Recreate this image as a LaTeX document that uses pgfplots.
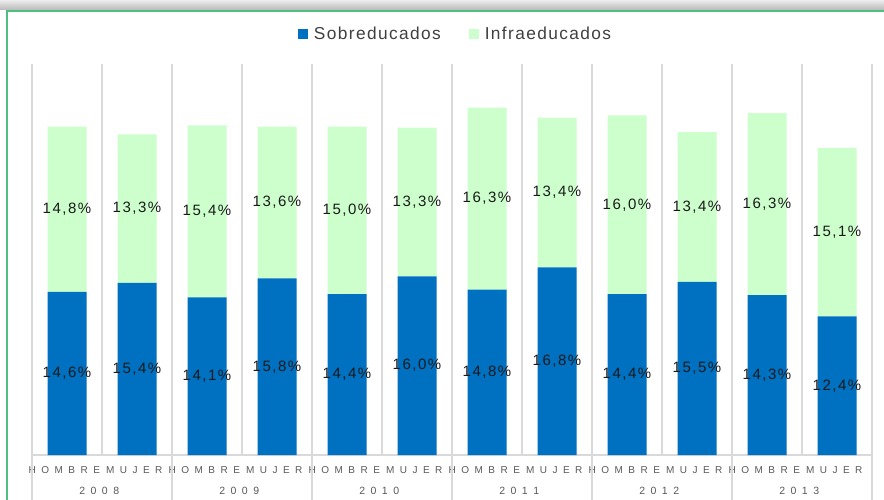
\documentclass[border=0pt]{standalone}
\usepackage{fontspec}
\setmainfont{Liberation Sans}
\usepackage{pgfplots}
\pgfplotsset{compat=1.18}
\usepackage{pgfplotstable}
\definecolor{sobre}{HTML}{0070C0}
\definecolor{infra}{HTML}{CCFFCC}
\definecolor{gridc}{HTML}{D9D9D9}
\definecolor{tickc}{HTML}{595959}
\definecolor{legc}{HTML}{404040}
\definecolor{labc}{HTML}{1A1A1A}
\definecolor{framec}{HTML}{4FBF7F}

\protected\def\spaced#1{\spacedi#1\relax}
\def\spacedi#1{\ifx\relax#1\else#1\kern5.5pt\expandafter\spacedi\fi}
\newcommand\labfont{\fontsize{15}{17}\selectfont\addfontfeature{LetterSpace=10}}

\pgfplotstableread{
x blue green
0 14.6 14.8
1 15.4 13.3
2 14.1 15.4
3 15.8 13.6
4 14.4 15.0
5 16.0 13.3
6 14.8 16.3
7 16.8 13.4
8 14.4 16.0
9 15.5 13.4
10 14.3 16.3
11 12.4 15.1
}\data

\begin{document}
\begin{tikzpicture}[x=1pt,y=1pt]
\useasboundingbox (0,0) rectangle (884,499);
\clip (0,0) rectangle (884,499);
\fill[white] (0,0) rectangle (884,499);
\shade[top color=gray!15, bottom color=gray!55] (0,489) rectangle (884,499);
\draw[framec, line width=2pt] (7,-5) -- (7,488) -- (895,488);
\begin{axis}[
  at={(32pt,44pt)}, anchor=south west,
  scale only axis, width=840pt, height=391pt,
  xmin=-0.5, xmax=11.5, ymin=0, ymax=35,
  ybar stacked, bar width=39pt,
  axis y line=none,
  axis x line*=bottom,
  x axis line style={-, draw=gridc, line width=1.3pt},
  xtick={0,...,11},
  xticklabels={\spaced{HOMBRE},\spaced{MUJER},\spaced{HOMBRE},\spaced{MUJER},\spaced{HOMBRE},\spaced{MUJER},\spaced{HOMBRE},\spaced{MUJER},\spaced{HOMBRE},\spaced{MUJER},\spaced{HOMBRE},\spaced{MUJER}},
  major tick length=0pt, minor tick length=0pt,
  minor xtick={-0.5,0.5,...,11.5},
  xminorgrids, minor grid style={draw=gridc, line width=1.3pt},
  xticklabel style={font=\fontsize{10}{12}\selectfont, text=tickc, anchor=north, inner sep=0pt, yshift=-11pt},
  clip=false,
  /pgf/number format/assume math mode=true,
  legend style={at={(0.5,1)}, anchor=center, xshift=5.5pt, yshift=30pt, draw=none, fill=none,
    font=\fontsize{17.3}{19}\selectfont\addfontfeature{LetterSpace=8}, text=legc,
    nodes={inner xsep=6pt},
    /tikz/every even column/.append style={column sep=22pt}},
  legend columns=2,
  legend cell align=left,
]
\addplot[fill=sobre, draw=none, point meta=explicit,
  nodes near coords={\pgfmathprintnumber[fixed, fixed zerofill, precision=1, use comma]{\pgfplotspointmeta}\%},
  nodes near coords align={center},
  every node near coord/.append style={anchor=center, font=\labfont, text=labc},
  legend image code/.code={\fill[sobre] (0pt,-5pt) rectangle (10pt,5pt);}]
  table[x=x, y=blue, meta=blue] {\data};
\addlegendentry{Sobreducados}
\addplot[fill=infra, draw=none, point meta=explicit,
  nodes near coords={\pgfmathprintnumber[fixed, fixed zerofill, precision=1, use comma]{\pgfplotspointmeta}\%},
  nodes near coords align={center},
  every node near coord/.append style={anchor=center, font=\labfont, text=labc},
  legend image code/.code={\fill[infra] (0pt,-5pt) rectangle (10pt,5pt);}]
  table[x=x, y=green, meta=green] {\data};
\addlegendentry{Infraeducados}
\pgfplotsinvokeforeach{-0.5,1.5,3.5,5.5,7.5,9.5,11.5}{
  \draw[gridc, line width=1.3pt] (axis cs:#1,0) -- ++(0pt,-50pt);
}
\node[anchor=base, font=\fontsize{10.5}{12}\selectfont, text=tickc] at (axis cs:0.5,0) [yshift=-39pt] {\spaced{2008}};
\node[anchor=base, font=\fontsize{10.5}{12}\selectfont, text=tickc] at (axis cs:2.5,0) [yshift=-39pt] {\spaced{2009}};
\node[anchor=base, font=\fontsize{10.5}{12}\selectfont, text=tickc] at (axis cs:4.5,0) [yshift=-39pt] {\spaced{2010}};
\node[anchor=base, font=\fontsize{10.5}{12}\selectfont, text=tickc] at (axis cs:6.5,0) [yshift=-39pt] {\spaced{2011}};
\node[anchor=base, font=\fontsize{10.5}{12}\selectfont, text=tickc] at (axis cs:8.5,0) [yshift=-39pt] {\spaced{2012}};
\node[anchor=base, font=\fontsize{10.5}{12}\selectfont, text=tickc] at (axis cs:10.5,0) [yshift=-39pt] {\spaced{2013}};
\end{axis}
\end{tikzpicture}
\end{document}
